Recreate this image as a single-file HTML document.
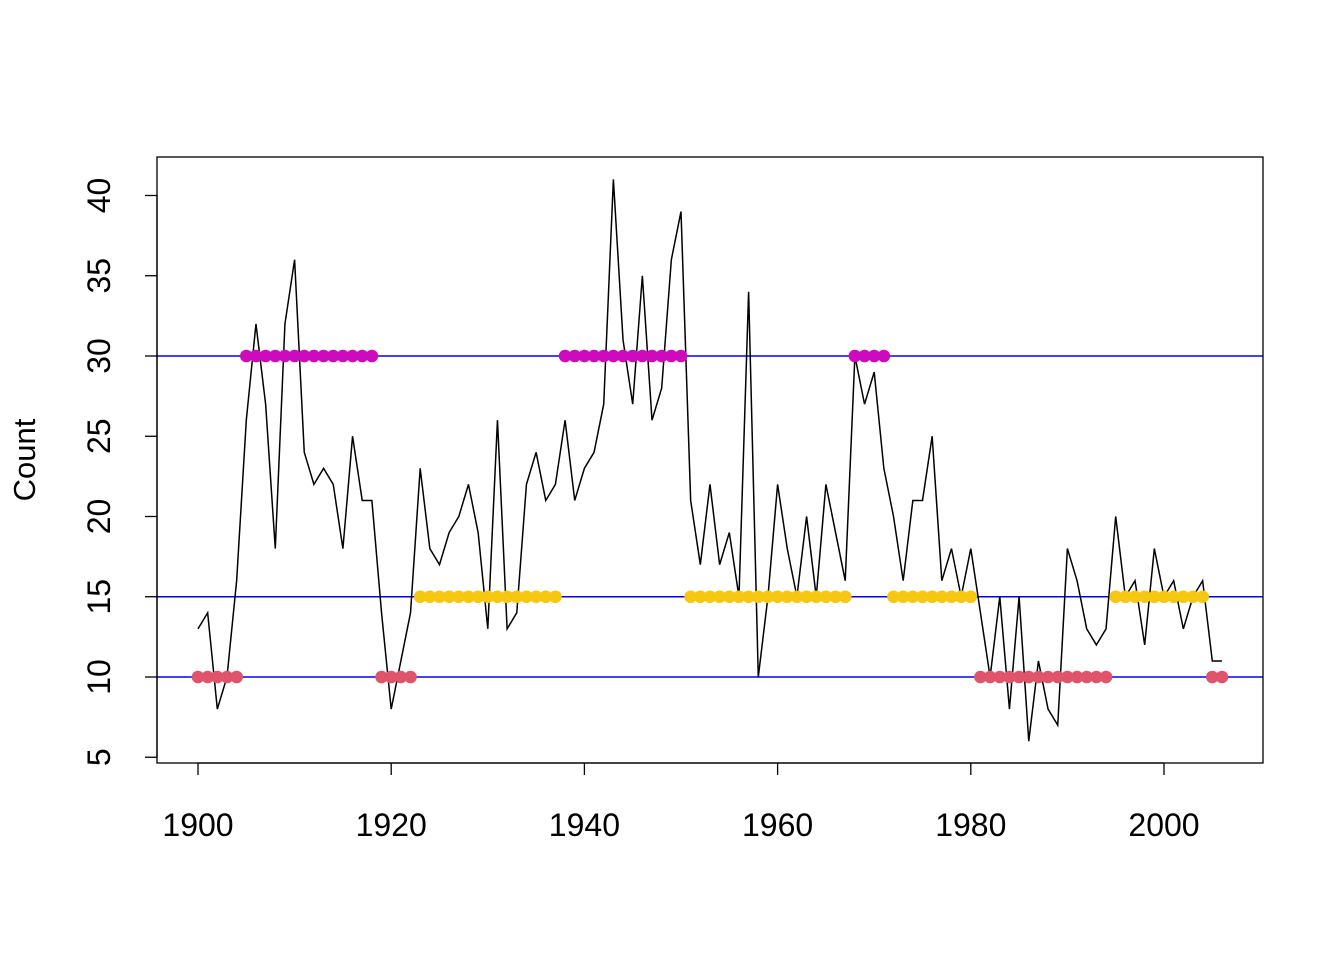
<!DOCTYPE html>
<html><head><meta charset="utf-8"><style>
html,body{margin:0;padding:0;background:#fff;}
svg{display:block;font-family:"Liberation Sans",Arial,sans-serif;}
</style></head><body>
<svg id="chart" width="1344" height="960" viewBox="0 0 1344 960" xmlns="http://www.w3.org/2000/svg">
<rect x="0" y="0" width="1344" height="960" fill="#fff"/>
<g id="hlines"></g>
<g id="series"></g>
<g id="points"></g>
<rect x="157" y="157" width="1106" height="606" fill="none" stroke="#000" stroke-width="1.3"/>
<g id="xaxis"></g>
<g id="yaxis"></g>
<text x="0" y="0" transform="translate(35,460) rotate(-90)" text-anchor="middle" font-size="31">Count</text>
</svg>
<script>
const startYear = 1900;
const counts = [13,14,8,10,16,26,32,27,18,32,36,24,22,23,22,18,25,21,21,14,8,11,14,23,18,17,19,20,22,19,13,26,13,14,22,24,21,22,26,21,23,24,27,41,31,27,35,26,28,36,39,21,17,22,17,19,15,34,10,15,22,18,15,20,15,22,19,16,30,27,29,23,20,16,21,21,25,16,18,15,18,14,10,15,8,15,6,11,8,7,18,16,13,12,13,20,15,16,12,18,15,16,13,15,16,11,11];
const stateLevels = [10,15,30];
const stateColors = ["#DF536B","#F5C710","#CD0BBC"];
const stateRuns = [[1900,1904,0],[1905,1918,2],[1919,1922,0],[1923,1937,1],[1938,1950,2],[1951,1967,1],[1968,1971,2],[1972,1980,1],[1981,1994,0],[1995,2004,1],[2005,2006,0]];
const xTicks = [1900,1920,1940,1960,1980,2000];
const yTicks = [5,10,15,20,25,30,35,40];

const NS = "http://www.w3.org/2000/svg";
const xs = y => 198 + (y - 1900) * (1164 - 198) / 100;
const ys = v => 677 - (v - 10) * (677 - 356) / 20;
function mk(tag, attrs, parent){ const e=document.createElementNS(NS,tag); for(const k in attrs) e.setAttribute(k,attrs[k]); parent.appendChild(e); return e; }

const hl = document.getElementById('hlines');
stateLevels.forEach(l=>{
  const e = mk('line',{x1:157,x2:1263,y1:ys(l),y2:ys(l),stroke:'#0000FF','stroke-width':1.5},hl);
  
  
});

const ser = document.getElementById('series');
const d = counts.map((c,i)=>(i?'L':'M')+xs(startYear+i).toFixed(2)+','+ys(c).toFixed(2)).join(' ');
const p = mk('path',{d:d,fill:'none',stroke:'#000','stroke-width':1.5},ser);



const pts = document.getElementById('points');
stateRuns.forEach(r=>{
  for(let y=r[0]; y<=r[1]; y++){
    const c = mk('circle',{cx:xs(y),cy:ys(stateLevels[r[2]]),r:6.3,fill:stateColors[r[2]]},pts);
    
    
  }
});

const xa = document.getElementById('xaxis');
mk('line',{x1:xs(1900),x2:xs(2000),y1:763,y2:763,stroke:'#000','stroke-width':1.3},xa);
xTicks.forEach(t=>{
  mk('line',{x1:xs(t),x2:xs(t),y1:763,y2:775,stroke:'#000','stroke-width':1.3},xa);
  const tx = mk('text',{x:xs(t),y:836,'text-anchor':'middle','font-size':32},xa);
  tx.textContent = t;
  
  
});

const ya = document.getElementById('yaxis');
mk('line',{x1:157,x2:157,y1:ys(40),y2:ys(5),stroke:'#000','stroke-width':1.3},ya);
yTicks.forEach(t=>{
  mk('line',{x1:145,x2:157,y1:ys(t),y2:ys(t),stroke:'#000','stroke-width':1.3},ya);
  const tx = mk('text',{x:0,y:0,transform:'translate(110,'+ys(t)+') rotate(-90)','text-anchor':'middle','font-size':32},ya);
  tx.textContent = t;
  
  
});
</script>
</body></html>
